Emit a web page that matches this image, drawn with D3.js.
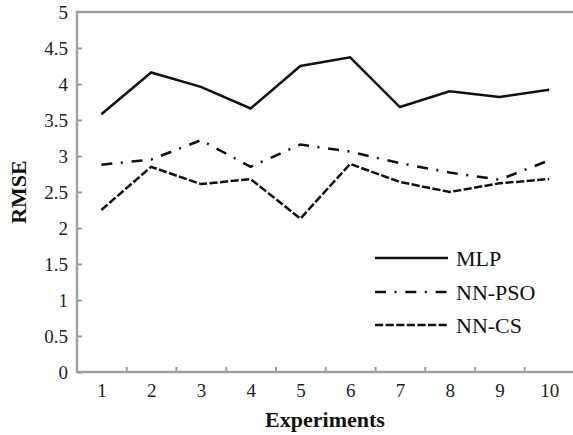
<!DOCTYPE html>
<html>
<head>
<meta charset="utf-8">
<script src="https://cdn.jsdelivr.net/npm/d3@7"></script>
<style>
  html, body { margin: 0; padding: 0; background: #fff; }
  svg { display: block; }
</style>
</head>
<body>
<svg id="chart" width="573" height="435"></svg>
<script>
// Experiment numbers and RMSE per model
const experiments = [1, 2, 3, 4, 5, 6, 7, 8, 9, 10];
const mlp   = [3.58, 4.16, 3.96, 3.66, 4.25, 4.37, 3.68, 3.90, 3.82, 3.92];
const nnPso = [2.88, 2.95, 3.22, 2.85, 3.16, 3.06, 2.90, 2.77, 2.67, 2.94];
const nnCs  = [2.25, 2.85, 2.61, 2.68, 2.13, 2.89, 2.64, 2.50, 2.62, 2.68];
const yTicks = [0, 0.5, 1, 1.5, 2, 2.5, 3, 3.5, 4, 4.5, 5];
const seriesNames = ["MLP", "NN-PSO", "NN-CS"];

const FONT = '"Liberation Serif", "Times New Roman", Tinos, serif';
const svg = d3.select("#chart");
const axisColor = "#a0a0a0";
const plotLeft = 77, plotTop = 12, plotBottom = 372, plotRight = 573;

const x = d3.scaleLinear().domain([0.5, 10.5]).range([76.5, 574]);
const y = d3.scaleLinear().domain([0, 5]).range([plotBottom, plotTop]);

// Y axis: inward ticks, labels on the left
const yAxis = svg.append("g")
  .attr("transform", `translate(${plotLeft},0)`)
  .call(d3.axisLeft(y).tickValues(yTicks)
    .tickFormat(d3.format("")).tickSizeInner(-5).tickSizeOuter(0).tickPadding(9));
yAxis.attr("font-family", null).attr("font-size", null);
yAxis.select(".domain").remove();
yAxis.selectAll(".tick line").attr("stroke", axisColor).attr("stroke-width", 2)
  .filter(d => d === 5).remove();
yAxis.selectAll(".tick text").style("font-size", "19px").attr("fill", "#222")
  .style("font-family", FONT);

// X axis labels at each experiment
const xLabels = svg.append("g")
  .attr("transform", `translate(0,${plotBottom})`)
  .call(d3.axisBottom(x).tickValues(experiments).tickSize(0).tickPadding(11.5));
xLabels.attr("font-family", null).attr("font-size", null);
xLabels.select(".domain").remove();
xLabels.selectAll(".tick text").style("font-size", "19px").attr("fill", "#222")
  .style("font-family", FONT);

// X tick marks between experiments, pointing up
const xMarks = svg.append("g")
  .attr("transform", `translate(0,${plotBottom})`)
  .call(d3.axisBottom(x).tickValues(experiments.slice(1).map(d => d - 0.5))
    .tickSize(-5).tickFormat(""));
xMarks.select(".domain").remove();
xMarks.selectAll(".tick line").attr("stroke", axisColor).attr("stroke-width", 2);

// Frame: left axis, bottom axis and top border
svg.append("path")
  .attr("d", `M${plotRight},${plotTop}H${plotLeft}V${plotBottom}H${plotRight}`)
  .attr("fill", "none").attr("stroke", axisColor).attr("stroke-width", 2.5);

// Series lines
const series = [
  { name: seriesNames[0], values: mlp,   dash: null },
  { name: seriesNames[1], values: nnPso, dash: "11,8.5,2,8.8" },
  { name: seriesNames[2], values: nnCs,  dash: "8.2,2.4" }
];
const line = d3.line().x((d, i) => x(experiments[i])).y(d => y(d));
series.forEach(s => {
  svg.append("path")
    .datum(s.values)
    .attr("d", line)
    .attr("fill", "none")
    .attr("stroke", "#111")
    .attr("stroke-width", 2.5)
    .attr("stroke-dasharray", s.dash);
});

// Legend
const legendY = [258, 292, 325];
series.forEach((s, i) => {
  svg.append("line")
    .attr("x1", 375).attr("x2", 448)
    .attr("y1", legendY[i]).attr("y2", legendY[i])
    .attr("stroke", "#111").attr("stroke-width", 2.5)
    .attr("stroke-dasharray", s.dash);
  svg.append("text")
    .attr("x", 456).attr("y", legendY[i]).attr("dy", "0.35em")
    .style("font-family", FONT).style("font-size", "22px").attr("fill", "#111")
    .text(s.name);
});

// Axis titles
svg.append("text")
  .attr("x", 325).attr("y", 427)
  .attr("text-anchor", "middle")
  .style("font-family", FONT).style("font-size", "22px").style("font-weight", "bold")
  .attr("fill", "#111")
  .text("Experiments");
svg.append("text")
  .attr("transform", "translate(26,192) rotate(-90)")
  .attr("text-anchor", "middle")
  .style("font-family", FONT).style("font-size", "22px").style("font-weight", "bold")
  .attr("fill", "#111")
  .text("RMSE");
</script>
</body>
</html>
